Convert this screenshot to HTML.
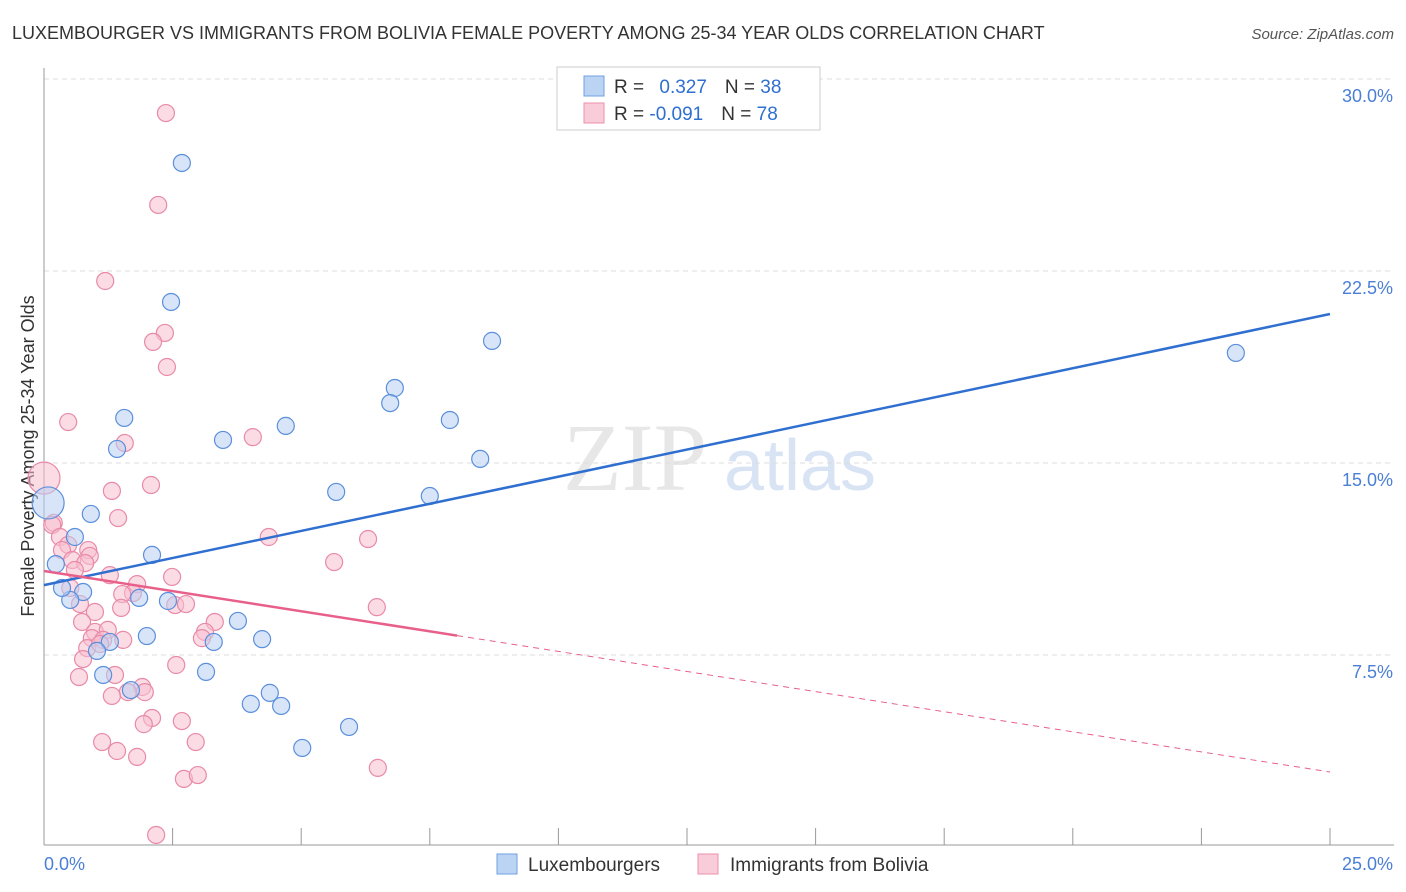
<!DOCTYPE html>
<html><head><meta charset="utf-8"><style>
body{margin:0;background:#fff;font-family:"Liberation Sans",sans-serif;}
svg{display:block}
</style></head><body>
<svg id="c" width="1406" height="892" xmlns="http://www.w3.org/2000/svg">
<text x="12" y="39" font-size="18" fill="#333">LUXEMBOURGER VS IMMIGRANTS FROM BOLIVIA FEMALE POVERTY AMONG 25-34 YEAR OLDS CORRELATION CHART</text>
<text x="1394" y="39" font-size="15" fill="#555" font-style="italic" text-anchor="end">Source: ZipAtlas.com</text>
<text x="34" y="456" font-size="18" fill="#333" text-anchor="middle" transform="rotate(-90 34 456)">Female Poverty Among 25-34 Year Olds</text>
<g><text x="635" y="490" font-size="96" fill="#ddd" font-family="Liberation Serif" text-anchor="middle" opacity="0.7">ZIP</text><text x="800" y="490" font-size="72" fill="#c8d8f0" text-anchor="middle" opacity="0.7">atlas</text></g>
<g id="grid"></g><g id="axes"></g><g id="pts"></g><g id="lines"></g>
<g>
<rect x="557" y="67" width="263" height="63" fill="#fff" stroke="#ccc"/>
<rect x="584" y="76" width="20" height="20" fill="#bcd4f4" stroke="#6f9fe0"/>
<rect x="584" y="103" width="20" height="20" fill="#f9ccd9" stroke="#ee8fab"/>
<text x="614" y="93" font-size="19" fill="#333">R = <tspan fill="#2f6fd0" dx="10">0.327</tspan><tspan dx="18">N = </tspan><tspan fill="#2f6fd0">38</tspan></text>
<text x="614" y="120" font-size="19" fill="#333">R = <tspan fill="#2f6fd0">-0.091</tspan><tspan dx="18">N = </tspan><tspan fill="#2f6fd0">78</tspan></text>
</g>
<g>
<rect x="497" y="854" width="20" height="20" fill="#bcd4f4" stroke="#6f9fe0"/>
<text x="528" y="871" font-size="19" fill="#333">Luxembourgers</text>
<rect x="698" y="854" width="20" height="20" fill="#f9ccd9" stroke="#ee8fab"/>
<text x="730" y="871" font-size="19" fill="#333">Immigrants from Bolivia</text>
</g>
</svg>
<script>
const xTicks=[0,25];
const yTicks=[7.5,15,22.5,30];
const blueX=[2.68,2.47,8.71,23.17,6.82,6.73,7.89,1.56,4.70,3.48,1.42,8.48,5.68,7.50,0.08,0.91,0.60,2.10,0.23,0.76,0.51,1.85,2.41,3.77,2.00,4.24,3.30,1.28,1.03,3.15,1.15,1.69,4.39,4.02,4.61,5.93,5.02,0.35];
const blueY=[26.72,21.29,19.77,19.3,17.93,17.34,16.68,16.76,16.45,15.90,15.55,15.16,13.87,13.71,13.44,13.01,12.11,11.41,11.05,9.96,9.65,9.73,9.61,8.83,8.24,8.12,8.01,8.01,7.66,6.84,6.72,6.13,6.02,5.59,5.51,4.69,3.87,10.12];
const pinkX=[2.37,2.22,1.19,2.35,2.12,2.39,0.47,1.57,4.06,2.08,0,1.32,1.44,0.19,0.16,4.37,6.30,0.31,0.47,0.35,0.86,0.89,0.55,5.64,0.80,0.60,1.28,2.49,0.51,1.81,1.73,1.52,0.70,2.55,2.76,6.47,0.99,1.50,0.74,3.32,0.99,1.24,3.13,0.93,1.15,1.54,3.07,0.84,1.09,0.76,2.57,1.38,0.68,1.91,1.63,1.96,1.32,2.10,1.94,2.68,1.13,1.42,2.95,1.81,2.72,2.99,6.49,2.18];
const pinkY=[28.67,25.08,22.11,20.08,19.73,18.75,16.60,15.78,16.01,14.14,14.41,13.91,12.85,12.66,12.58,12.11,12.03,12.11,11.80,11.60,11.60,11.37,11.21,11.13,11.09,10.82,10.62,10.55,10.12,10.27,9.92,9.88,9.49,9.45,9.49,9.37,9.18,9.34,8.79,8.79,8.40,8.48,8.40,8.16,8.09,8.09,8.16,7.77,7.93,7.34,7.11,6.72,6.64,6.25,6.05,6.05,5.90,5.04,4.80,4.92,4.10,3.75,4.10,3.52,2.66,2.81,3.09,0.47];
const blueLine=[10.23,20.82];
const pinkLine=[10.78,2.93];
const pinkSolidEnd=8.03;
const X=v=>44+v*(1286/25), Y=v=>847-v*(192/7.5);
const NS="http://www.w3.org/2000/svg";
function mk(p,t,a){const e=document.createElementNS(NS,t);for(const k in a)e.setAttribute(k,a[k]);p.appendChild(e);return e;}
const grid=document.getElementById('grid'),axes=document.getElementById('axes'),pts=document.getElementById('pts'),lines=document.getElementById('lines');
yTicks.forEach(v=>{const g=mk(grid,'line',{x1:44,x2:1394,y1:Y(v),y2:Y(v),stroke:'#ddd','stroke-dasharray':'5,4'});


const t=mk(axes,'text',{x:1393,y:Y(v)+23,'font-size':18,fill:'#4a7fd6','text-anchor':'end'});t.textContent=v.toFixed(1)+'%';

});
const ax=mk(axes,'line',{x1:44,x2:44,y1:68,y2:845,stroke:'#999'});


const bx=mk(axes,'line',{x1:44,x2:1394,y1:845,y2:845,stroke:'#999'});


for(let i=0;i<=10;i++){const tk=mk(axes,'line',{x1:X(i*2.5),x2:X(i*2.5),y1:828,y2:845,stroke:'#999'});

}
xTicks.forEach((v,i)=>{const t=mk(axes,'text',{x:i?1393:44,y:870,'font-size':18,fill:'#4a7fd6','text-anchor':i?'end':'start'});t.textContent=v.toFixed(1)+'%';

});
function dot(x,y,r,f,s,n){const c=mk(pts,'circle',{cx:X(x),cy:Y(y),r:r,fill:f,stroke:s,'stroke-width':1.2,'fill-opacity':0.55});

}
pinkX.forEach((x,i)=>dot(x,pinkY[i],i==10?16:8.5,'#f7bfd0','#e88aa8','bolivia-point'));
blueX.forEach((x,i)=>dot(x,blueY[i],i==14?16:8.5,'#b8d0f2','#5b8fdc','luxembourger-point'));
const l1=mk(lines,'line',{x1:X(0),y1:Y(blueLine[0]),x2:X(25),y2:Y(blueLine[1]),stroke:'#2f6fd0','stroke-width':2.5});


const py=x=>pinkLine[0]+(pinkLine[1]-pinkLine[0])*x/25;
const l2=mk(lines,'line',{x1:X(0),y1:Y(py(0)),x2:X(pinkSolidEnd),y2:Y(py(pinkSolidEnd)),stroke:'#e8608a','stroke-width':2.5});


const l3=mk(lines,'line',{x1:X(pinkSolidEnd),y1:Y(py(pinkSolidEnd)),x2:X(25),y2:Y(py(25)),stroke:'#e8608a','stroke-width':1,'stroke-dasharray':'6,5'});


</script>
</body></html>
